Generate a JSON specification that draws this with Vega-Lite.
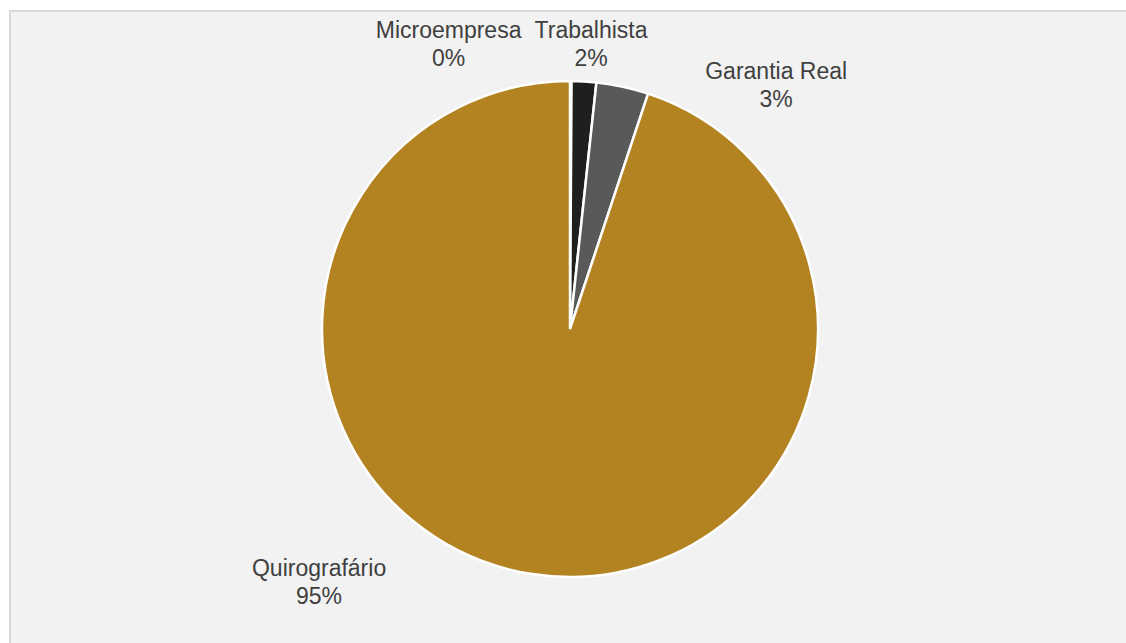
{
  "$schema": "https://vega.github.io/schema/vega-lite/v6.json",
  "width": 1120,
  "height": 636,
  "autosize": {"type": "none"},
  "padding": {"left": 10, "top": 11, "right": -4, "bottom": -4},
  "background": "#ffffff",
  "config": {
    "text": {"font": "Liberation Sans", "fontSize": 23, "fill": "#404040", "lineHeight": 28}
  },
  "view": {"fill": "#f2f2f2", "stroke": "#d9d9d9", "strokeWidth": 2},
  "data": {
    "values": [
      {"idx": 1, "category": "Microempresa", "value": 0.001},
      {"idx": 2, "category": "Trabalhista", "value": 0.016},
      {"idx": 3, "category": "Garantia Real", "value": 0.034},
      {"idx": 4, "category": "Quirografário", "value": 0.949}
    ]
  },
  "transform": [
    {"calculate": "[datum.category, format(datum.value, '.0%')]", "as": "label"}
  ],
  "layer": [
    {
      "mark": {"type": "arc", "outerRadius": 248, "stroke": "#ffffff", "strokeWidth": 2.5},
      "encoding": {
        "theta": {"field": "value", "type": "quantitative", "stack": true},
        "order": {"field": "idx", "type": "quantitative"},
        "color": {
          "field": "category",
          "type": "nominal",
          "scale": {
            "domain": ["Microempresa", "Trabalhista", "Garantia Real", "Quirografário"],
            "range": ["#7f7f7f", "#1f1f1f", "#595959", "#b38322"]
          },
          "legend": null
        }
      }
    },
    {
      "transform": [{"filter": "datum.category === 'Microempresa'"}],
      "mark": {"type": "text", "theta": 5.896, "radius": 321.5, "align": "center", "baseline": "middle"},
      "encoding": {"text": {"field": "label"}}
    },
    {
      "transform": [{"filter": "datum.category === 'Trabalhista'"}],
      "mark": {"type": "text", "theta": 0.0705, "radius": 299, "align": "center", "baseline": "middle"},
      "encoding": {"text": {"field": "label"}}
    },
    {
      "transform": [{"filter": "datum.category === 'Garantia Real'"}],
      "mark": {"type": "text", "theta": 0.6765, "radius": 329.3, "align": "center", "baseline": "middle"},
      "encoding": {"text": {"field": "label"}}
    },
    {
      "transform": [{"filter": "datum.category === 'Quirografário'"}],
      "mark": {"type": "text", "theta": 3.950, "radius": 347, "align": "center", "baseline": "middle"},
      "encoding": {"text": {"field": "label"}}
    }
  ]
}
